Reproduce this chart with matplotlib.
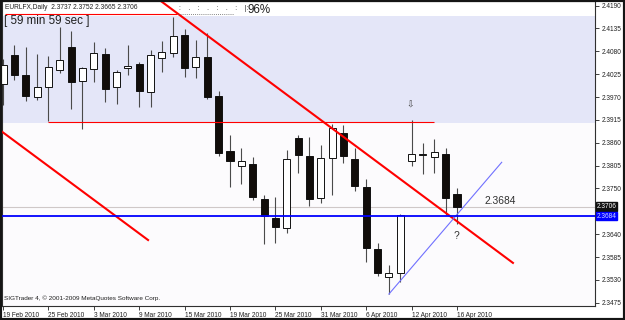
import numpy as np
import matplotlib
matplotlib.use("Agg")
import matplotlib.pyplot as plt
from matplotlib.patches import Rectangle
import matplotlib.transforms as mtransforms

plt.rcParams['font.family'] = ['Liberation Sans', 'DejaVu Sans']

# Daily EURLFX bars, 19 Feb 2010 .. 16 Apr 2010 (weekdays)
opens = [2.4002, 2.4070, 2.4022, 2.3970, 2.3994, 2.4035, 2.4091, 2.4009, 2.4038, 2.4074,
         2.3995, 2.4039, 2.4050, 2.3983, 2.4065, 2.4075, 2.4119, 2.4042, 2.4066, 2.3973,
         2.3839, 2.3804, 2.3809, 2.3724, 2.3680, 2.3656, 2.3871, 2.3828, 2.3726, 2.3823,
         2.3883, 2.3820, 2.3753, 2.3604, 2.3536, 2.3546, 2.3816, 2.3831, 2.3825, 2.3832, 2.3737]
highs = [2.4062, 2.4095, 2.4091, 2.4074, 2.4069, 2.4139, 2.4130, 2.4043, 2.4103, 2.4088,
         2.4035, 2.4095, 2.4055, 2.4083, 2.4105, 2.4162, 2.4133, 2.4107, 2.4125, 2.3985,
         2.3879, 2.3847, 2.3825, 2.3734, 2.3729, 2.3843, 2.3879, 2.3873, 2.3855, 2.3905,
         2.3903, 2.3847, 2.3772, 2.3618, 2.3566, 2.3689, 2.3915, 2.3860, 2.3869, 2.3848, 2.3752]
lows = [2.3951, 2.4011, 2.3961, 2.3963, 2.3913, 2.4029, 2.3941, 2.3893, 2.4007, 2.3957,
        2.3953, 2.4023, 2.3945, 2.3946, 2.4030, 2.4066, 2.4019, 2.4015, 2.3965, 2.3827,
        2.3753, 2.3761, 2.3722, 2.3616, 2.3620, 2.3644, 2.3788, 2.3708, 2.3716, 2.3734,
        2.3812, 2.3745, 2.3574, 2.3539, 2.3496, 2.3526, 2.3804, 2.3785, 2.3788, 2.3686, 2.3665]
closes = [2.4047, 2.4023, 2.3973, 2.3993, 2.4042, 2.4059, 2.4005, 2.4041, 2.4076, 2.3990,
          2.4030, 2.4045, 2.3985, 2.4070, 2.4078, 2.4117, 2.4041, 2.4066, 2.3969, 2.3835,
          2.3816, 2.3816, 2.3729, 2.3684, 2.3657, 2.3820, 2.3831, 2.3724, 2.3823, 2.3895,
          2.3828, 2.3756, 2.3608, 2.3546, 2.3546, 2.3686, 2.3832, 2.3832, 2.3837, 2.3728, 2.3706]

date_labels = ['19 Feb 2010', '25 Feb 2010', '3 Mar 2010', '9 Mar 2010', '15 Mar 2010',
               '19 Mar 2010', '25 Mar 2010', '31 Mar 2010', '6 Apr 2010', '12 Apr 2010',
               '16 Apr 2010']
date_bars = [0, 4, 8, 12, 16, 20, 24, 28, 32, 36, 40]

# objects drawn on the chart (bar index, price)
red_trend_x, red_trend_y = [14.0, 44.93], [2.4199, 2.3571]
red_channel_x, red_channel_y = [-0.11, 12.78], [2.3887, 2.3626]
blue_trend_x, blue_trend_y = [34, 43.94], [2.3496, 2.3813]
top_line, top_line_x = 2.4170, [0.2, 15.3]
resist_line, resist_x = 2.3909, [3.95, 37.95]
shade_lo, shade_hi = 2.3908, 2.4166
support = 2.3684
bid = 2.3706

W, H = 625, 320
fig = plt.figure(figsize=(W / 100, H / 100), dpi=100, facecolor='white')
ax = fig.add_axes([2 / W, 14 / H, 593 / W, 305 / H])
ax.set_facecolor('#fcfbfd')
ax.set_xlim(-0.09, 52.16)
ax.set_ylim(2.34673, 2.4201)

def px(x, y):
    return x / W, 1 - y / H

# background zones
ax.axhspan(shade_lo, shade_hi, color='#e4e6f8', zorder=0, lw=0)
ax.axhspan(shade_hi, 2.43, color='white', zorder=0, lw=0)

# candles
x = np.arange(len(opens))
o, h, l, c = map(np.array, (opens, highs, lows, closes))
ax.vlines(x, l, h, color='#4a4a4a', lw=0.8, zorder=2)
bottom = np.minimum(o, c)
height = np.maximum(np.abs(c - o), 0.00005)
face = ['white' if cc >= oo else '#110d0a' for oo, cc in zip(o, c)]
ax.bar(x, height, bottom=bottom, width=0.62, color=face, edgecolor='#111111',
       linewidth=0.7, zorder=3)

# lines
ax.plot(red_trend_x, red_trend_y, color='#ff0000', lw=1.5, zorder=4)
ax.plot(red_channel_x, red_channel_y, color='#ff0000', lw=1.5, zorder=4)
ax.plot(blue_trend_x, blue_trend_y, color='#7070ff', lw=0.8, zorder=4)
ax.hlines(top_line, *top_line_x, color='#ff0000', lw=0.8, zorder=4)
ax.hlines(resist_line, *resist_x, color='#ff0000', lw=0.8, zorder=4)
ax.axhline(bid, color='#cfc8c8', lw=0.8, zorder=1)
ax.axhline(support, color='#0000ff', lw=1.3, zorder=4)

# chart texts
ax.text(42.4, 2.3721, '2.3684', fontsize=7.4, color='#303030', ha='left', va='center', zorder=5)
ax.text(39.97, 2.3636, '?', fontsize=7.4, color='#303030', ha='center', va='center', zorder=5)
ax.text(35.86, 2.3951, '\u21e9', fontsize=6.5, color='#404040', ha='center', va='center',
        family='DejaVu Sans', zorder=5)

fig.text(*px(5, 7.5), 'EURLFX,Daily  2.3737 2.3752 2.3665 2.3706', fontsize=4.8,
         color='#202020', ha='left', va='center')
fig.text(*px(4, 21), '[ 59 min 59 sec ]', fontsize=8.4, color='#202020', ha='left', va='center')
fig.text(*px(179, 9), ':    .    :    .    :    .    :    |:', fontsize=4.8, color='#303030',
         ha='left', va='center')
fig.add_artist(plt.Line2D([178 / W, 234 / W], [1 - 14 / H, 1 - 14 / H], color='#606060',
                          lw=0.6, ls=(0, (1, 1.5))))
fig.text(*px(248, 10), '96%', fontsize=8.4, color='#202020', ha='left', va='center')
fig.text(*px(4, 301), 'SIGTrader 4, \u00a9 2001-2009 MetaQuotes Software Corp.', fontsize=4.6,
         color='#202020', ha='left', va='bottom')

# axes (the 2.3695 label is hidden behind the price boxes)
yt = np.round(np.arange(2.3475, 2.4191, 0.0055), 4)
ax.yaxis.tick_right()
ax.set_yticks(yt)
ax.set_yticklabels(['' if abs(v - 2.3695) < 1e-6 else f'{v:.4f}' for v in yt])
ax.set_xticks(date_bars)
ax.set_xticklabels(date_labels, ha='left')
ax.tick_params(axis='both', labelsize=4.7, length=3, width=0.6, pad=1.5, colors='#202020')
ax.tick_params(axis='x', pad=1)
for s in ax.spines.values():
    s.set_color('#303030')
    s.set_linewidth(0.8)

# price labels on the scale
tr = mtransforms.blended_transform_factory(ax.transAxes, ax.transData)
ax.text(1.003, bid + 0.00006, '2.3706', transform=tr, fontsize=4.7, color='white', ha='left',
        va='center', bbox=dict(boxstyle='square,pad=0.1', fc='#101010', ec='#101010'),
        zorder=6, clip_on=False)
ax.text(1.003, support - 0.00006, '2.3684', transform=tr, fontsize=4.7, color='#d0d8ff',
        ha='left', va='center', bbox=dict(boxstyle='square,pad=0.1', fc='#0000ff', ec='#0000ff'),
        zorder=6, clip_on=False)

fig.add_artist(Rectangle((0, 0), 1, 1, transform=fig.transFigure, fill=False,
                         edgecolor='#151515', lw=3))

fig.savefig('out.png', dpi=100)
